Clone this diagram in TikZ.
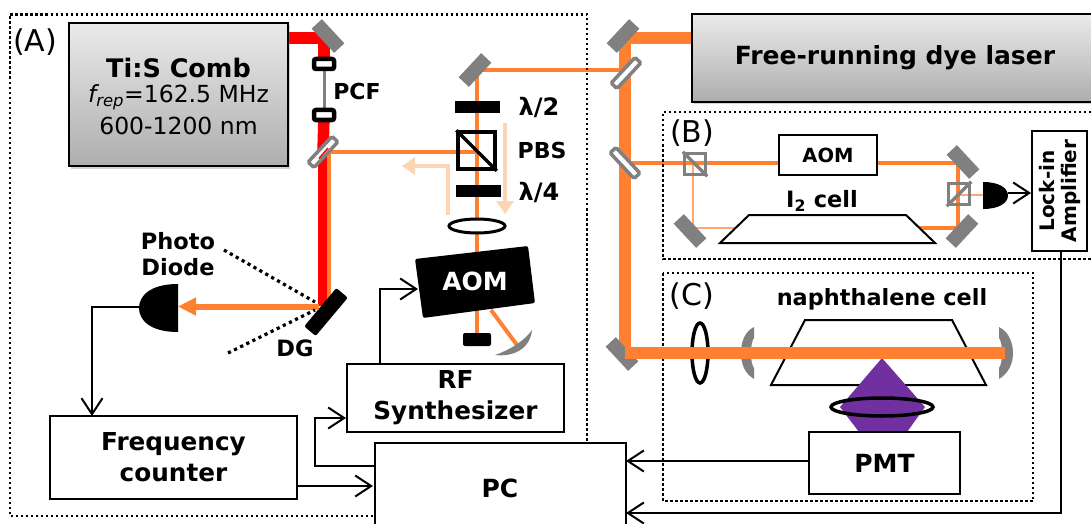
\documentclass[tikz,border=0pt]{standalone}
\usepackage{fontspec}
\setmainfont{DejaVu Sans}
\usepackage{xcolor}
\usetikzlibrary{arrows.meta,positioning,calc,backgrounds,shadows}
\definecolor{beamorange}{RGB}{255,128,48}
\definecolor{beamred}{RGB}{255,0,0}
\definecolor{beampale}{RGB}{252,213,180}
\definecolor{optgray}{RGB}{128,128,128}
\definecolor{fluopurple}{RGB}{112,48,160}
\tikzset{
  lbl/.style={font=\fontsize{#1}{#1}\selectfont\bfseries, inner sep=0pt, align=center},
  tag/.style={font=\fontsize{30}{30}\selectfont, inner sep=0pt},
  blockbox/.style={draw=black, line width=1.8pt, fill=white, inner sep=0pt, align=center},
  laserbox/.style={draw=black, line width=2pt, top color=black!8, bottom color=black!32, inner sep=0pt, align=center,
    drop shadow={shadow xshift=1.5pt,shadow yshift=-2.5pt,opacity=0.35}},
  mirror/.style={fill=optgray, minimum width=33pt, minimum height=14pt, inner sep=0pt},
  splitter/.style={draw=optgray, line width=3.5pt, fill=white, rounded corners=1.5pt, minimum width=35pt, minimum height=8pt, inner sep=0pt},
  plate/.style={fill=black, minimum width=45pt, minimum height=12pt, inner sep=0pt},
  mount/.style={draw=black, line width=4.5pt, fill=white, rounded corners=2pt, minimum width=20pt, minimum height=10pt, inner sep=0pt},
  graycube/.style={draw=optgray, line width=3.5pt, fill=none, minimum size=21pt, inner sep=0pt},
  dotbox/.style={line width=2.5pt, dash pattern=on 2.5pt off 2.5pt},
  dotray/.style={line width=3.2pt, dash pattern=on 3.2pt off 3.6pt},
  wire/.style={-{Straight Barb[length=16pt,width=21pt]}, line width=2pt, black},
  beamthick/.style={beamorange, line width=12pt},
  beammid/.style={beamorange, line width=4.5pt},
  beamthin/.style={beamorange!70, line width=1.2pt},
  palearr/.style={-{Triangle[length=13pt,width=17pt]}, beampale, line width=3.5pt},
}
\begin{document}
\begin{tikzpicture}[x=1pt,y=-1pt]
  \useasboundingbox (0,0) rectangle (1091,524);
  % dotted frames
  \draw[dotbox] (373,516) -- (10,516) -- (10,14.5) -- (587,14.5) -- (587,441);
  \draw[dotbox] (1091,112) -- (663,112) -- (663,259) -- (1091,259);
  \draw[dotbox] (663,273) rectangle (1033,501);
  \node[tag] (tagA) at (35,42) {(A)};
  \node[tag] (tagB) at (692,133) {(B)};
  \node[tag] (tagC) at (692,296) {(C)};

  % sources
  \node[laserbox, minimum width=219pt, minimum height=143pt] (comb) at (178.5,94.5) {};
  \node[lbl=25.5] (combname) at (178.5,68) {Ti:S Comb};
  \node[font=\fontsize{23.5}{23.5}\selectfont, inner sep=0pt] (combrep) at (178.5,97) {\textit{f\textsubscript{rep}}=162.5 MHz};
  \node[font=\fontsize{23.5}{23.5}\selectfont, inner sep=0pt] (combrange) at (178.5,126) {600-1200 nm};
  \node[laserbox, anchor=north west, minimum width=420pt, minimum height=88pt] (dye) at (691,13) {};
  \node[lbl=25] (dyename) at (895,58) {Free-running dye laser};

  % optics of (A)
  \node[mirror, rotate=-47] (mcomb) at (328,36) {};
  \node[mount] (pcfa) at (324,64) {};
  \node[mount] (pcfb) at (324,115) {};
  \node[splitter, rotate=47] (sred) at (323,152) {};
  \node[fill=black, rotate=50, minimum width=50pt, minimum height=15pt, rounded corners=2pt, inner sep=0pt] (grating) at (326,312) {};
  \node[mirror, rotate=47] (mpump) at (475,70) {};
  \node[plate] (halfwave) at (477.5,107) {};
  \node[draw=black, line width=3.5pt, minimum size=37pt, inner sep=0pt] (pbs) at (476.5,150.5) {};
  \node[plate] (quartwave) at (478.5,191) {};
  \node[fill=black, rounded corners=2pt, minimum width=28pt, minimum height=13pt, inner sep=0pt] (stopper) at (477,339.5) {};
  \coordinate (lensa) at (477,226);
  \coordinate (combout) at (288,38);
  \coordinate (combturn) at (324,38);
  \coordinate (dyeout) at (691,38);
  \coordinate (dyeturn) at (625,38);
  \coordinate (dyelow) at (625,353);
  \coordinate (retro) at (517,345);
  \coordinate (aomout) at (491,310);
  \coordinate (pdface) at (178,306.5);
  \coordinate (pdback) at (139,306.5);

  % beams of (A) and the dye beam
  \begin{scope}[on background layer]
    \draw[beammid] (sred.center) -- (pbs.center |- sred.center);
    \draw[beamorange, line width=4pt] (477,70) -- (stopper.center);
    \draw[beamorange, line width=4pt] (aomout) -- (retro);
    \draw[beamorange, line width=4pt] (477,70) -- (625,70);
    \draw[beamorange, line width=4pt] (329,152) -- (329,306);
    \draw[beamred, line width=9.5pt] (322.5,152) -- (322.5,306);
    \draw[beamred, line width=11.5pt] (combout) -- (combturn) -- (pcfa.center);
    \draw[optgray, line width=3pt] (pcfa.center) -- (pcfb.center);
    \draw[beamred, line width=11.5pt] (pcfb.center) -- (sred.center);
    \draw[beamthick] (dyeout) -- (dyeturn) -- (dyelow);
  \end{scope}
  \draw[beamred, line width=1.5pt] (319,158.5) -- (328,148);
  \draw[line width=3.5pt] (pbs.north west) -- (pbs.south east);
  \draw[black, line width=3pt, fill=white] (lensa) ellipse [x radius=28, y radius=7];
  \draw[-{Triangle[length=18pt,width=17pt]}, beamorange, line width=6pt] (319,306.5) -- (pdface);
  \fill (178,284) .. controls (150,284) and (139,296) .. (139,308) .. controls (139,320) and (150,332) .. (178,332) -- cycle;
  \draw[dotray] (224,250) -- (315,302);
  \draw[dotray] (228,353) -- (315,310);
  \draw[palearr] (505,123) -- (505,214);
  \draw[palearr] (448,215) -- (448,166) -- (402,166);
  \fill[rounded corners=2pt] (415,259) -- (528,246) -- (535,303) -- (423,318) -- cycle;
  \fill[optgray] (495,355) .. controls (512,357) and (530,350) .. (532,330) .. controls (525,340) and (512,349) .. (495,355);

  % labels of (A)
  \node[lbl=22] (pcflabel) at (357,91) {PCF};
  \node[lbl=24] (halflabel) at (539,107) {λ/2};
  \node[lbl=22] (pbslabel) at (542,150) {PBS};
  \node[lbl=24] (quartlabel) at (539,192) {λ/4};
  \node[lbl=25, text=white] (aoma) at (475,281) {AOM};
  \node[lbl=22.5] (pdlabel) at (178,254) {Photo\\[3pt]Diode};
  \node[lbl=22.5] (dglabel) at (295,348) {DG};

  % optics of (B)
  \node[mirror, rotate=47] (mdyetop) at (623,36) {};
  \node[splitter, rotate=47] (sdyea) at (626,73) {};
  \node[splitter, rotate=-47] (sdyeb) at (625,163) {};
  \node[mirror, rotate=-47] (mdyelow2) at (622,354) {};
  \node[graycube] (cubea) at (695,164) {};
  \node[blockbox, minimum width=98pt, minimum height=40pt, font=\fontsize{19.5}{19.5}\selectfont\bfseries] (aomb) at (828,155) {AOM};
  \node[mirror, rotate=-47] (mbtr) at (963,162) {};
  \node[mirror, rotate=-47] (mbtl) at (690,231) {};
  \node[mirror, rotate=47] (mbbr) at (962,231) {};
  \node[graycube] (cubeb) at (959,194) {};
  \node[lbl=22.5] (i2label) at (822,201) {I\textsubscript{2} cell};
  \begin{scope}[on background layer]
    \draw[beammid] (sdyeb.center) -- (aomb.west |- sdyeb.center);
    \draw[beammid] (aomb.east |- sdyeb.center) -- (958,163) -- (958,228) -- (905,228);
    \draw[beamthin] (693,165) -- (693,228) -- (760,228);
    \draw[beamthin] (959,195) -- (990,195);
  \end{scope}
  \draw[line width=2pt, fill=white] (720,243) -- (749,215) -- (906,215) -- (935,243) -- cycle;
  \draw[optgray, line width=3.5pt] (cubea.north west) -- (cubea.south east);
  \draw[optgray, line width=3.5pt] (cubeb.south west) -- (cubeb.north east);
  \fill (983,182) .. controls (999,182) and (1008,188) .. (1008,195.5) .. controls (1008,203) and (999,209) .. (983,209) -- cycle;
  \coordinate (detback) at (1008,193);
  \node[blockbox, minimum width=55pt, minimum height=120pt] (lockin) at (1059.5,191) {};
  \node[lbl=20, rotate=90] (lockintext) at (lockin.center) {Lock-in\\[2pt]Amplifier};
  \coordinate (lockinout) at (1061,251);

  % optics of (C)
  \draw[line width=3.5pt] (700,353) ellipse [x radius=8, y radius=30];
  \fill[optgray] (754,327) .. controls (744,332) and (741,343) .. (741,353) .. controls (741,363) and (744,373) .. (754,379) -- (754,368) .. controls (750,363) and (750,343) .. (754,338) -- cycle;
  \fill[optgray] (999,327) .. controls (1009,332) and (1013,343) .. (1013,353) .. controls (1013,363) and (1009,373) .. (999,379) -- (999,368) .. controls (1003,363) and (1003,343) .. (999,338) -- cycle;
  \draw[line width=2pt, fill=white] (771,385) -- (805,320) -- (952,320) -- (986,385) -- cycle;
  \fill[fluopurple] (882,358) -- (925,407) -- (907,432) -- (859,432) -- (840,407) -- cycle;
  \draw[beamthick] (dyelow) -- (1005,353);
  \draw[line width=3.5pt] (882,407) ellipse [x radius=51, y radius=9];
  \node[lbl=22.4] (naphlabel) at (882,299) {naphthalene cell};
  \node[blockbox, minimum width=151pt, minimum height=62pt, font=\fontsize{25}{25}\selectfont\bfseries] (pmt) at (884.5,463) {PMT};

  % electronics
  \node[blockbox, minimum width=247pt, minimum height=83pt, font=\fontsize{24.7}{31}\selectfont\bfseries] (freq) at (173.5,457.5) {Frequency\\counter};
  \node[blockbox, minimum width=217pt, minimum height=68pt, font=\fontsize{24.7}{31}\selectfont\bfseries] (rf) at (455.5,398) {RF\\Synthesizer};
  \node[blockbox, anchor=north west, minimum width=251pt, minimum height=90pt] (pc) at (374,442) {};
  \node[lbl=25] (pcname) at (500,488) {PC};
  \coordinate (rfup) at (380,364);
  \coordinate (pcout) at (374,466);
  \coordinate (freqout) at (297,486);
  \coordinate (pmtout) at (809,461);

  \draw[wire] (pdback) -- (92,306.5) -- (92,416);
  \draw[wire] (rfup) -- (380,289) -- (418,289);
  \draw[wire] (pcout) -- (315,466) -- (315,418) -- (346,418);
  \draw[wire] (freqout) -- (373,486);
  \draw[wire] (pmtout) -- (626,461);
  \draw[wire] (lockinout) -- (1061,513) -- (626,513);
  \draw[wire] (detback) -- (1031,193);
\end{tikzpicture}
\end{document}
